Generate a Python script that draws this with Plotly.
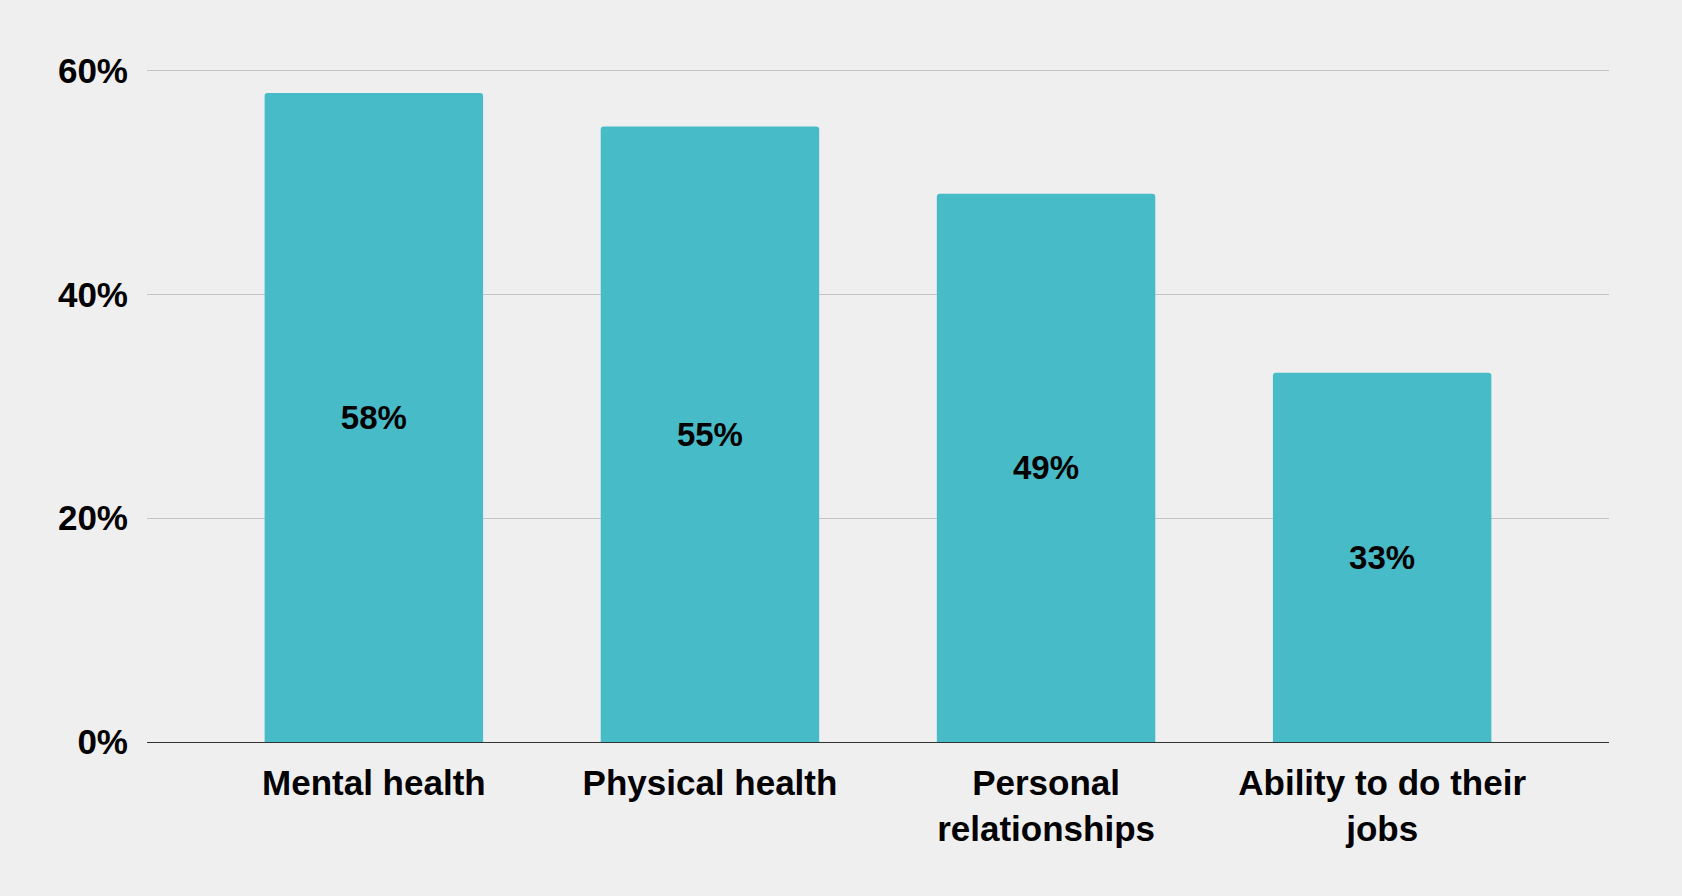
import plotly.graph_objects as go

categories = ["Mental health", "Physical health", "Personal<br>relationships", "Ability to do their<br>jobs"]
shares = [0.58, 0.55, 0.49, 0.33]
y_ticks = [0, 0.2, 0.4, 0.6]
y_tick_labels = ["0%", "20%", "40%", "60%"]

bg = "#efefef"

fig = go.Figure()
fig.add_trace(go.Bar(
    x=list(range(len(categories))),
    y=shares,
    marker=dict(color="#47bbc7", line=dict(width=0), cornerradius=3),
    texttemplate="%{y:.0%}",
    textposition="inside",
    insidetextanchor="middle",
    textangle=0,
    textfont=dict(family="Liberation Sans", size=33, color="#000000", weight="bold"),
    width=0.65,
    hoverinfo="skip",
))

fig.update_layout(
    width=1682,
    height=896,
    paper_bgcolor=bg,
    plot_bgcolor=bg,
    margin=dict(l=147, r=73, t=69, b=154),
    showlegend=False,
    font=dict(family="Liberation Sans", color="#000000"),
    xaxis=dict(
        tickvals=list(range(len(categories))),
        ticktext=categories,
        range=[-0.675, 3.675],
        showgrid=False,
        showline=True,
        linecolor="#333333",
        linewidth=1,
        ticks="",
        ticklabelstandoff=10,
        tickfont=dict(size=35, weight="bold"),
        zeroline=False,
    ),
    yaxis=dict(
        range=[0, 0.6015],
        tickvals=y_ticks,
        ticktext=y_tick_labels,
        showgrid=True,
        gridcolor="#c3c3c3",
        gridwidth=1,
        zeroline=False,
        ticks="",
        ticklabelstandoff=18,
        tickfont=dict(size=35, weight="bold"),
    ),
)

# drop the page's default body margin so the chart fills the window
fig.write_html(
    "out.html",
    config={"displayModeBar": False},
    post_script="document.body.style.margin='0';document.body.style.background='%s';" % bg,
)
